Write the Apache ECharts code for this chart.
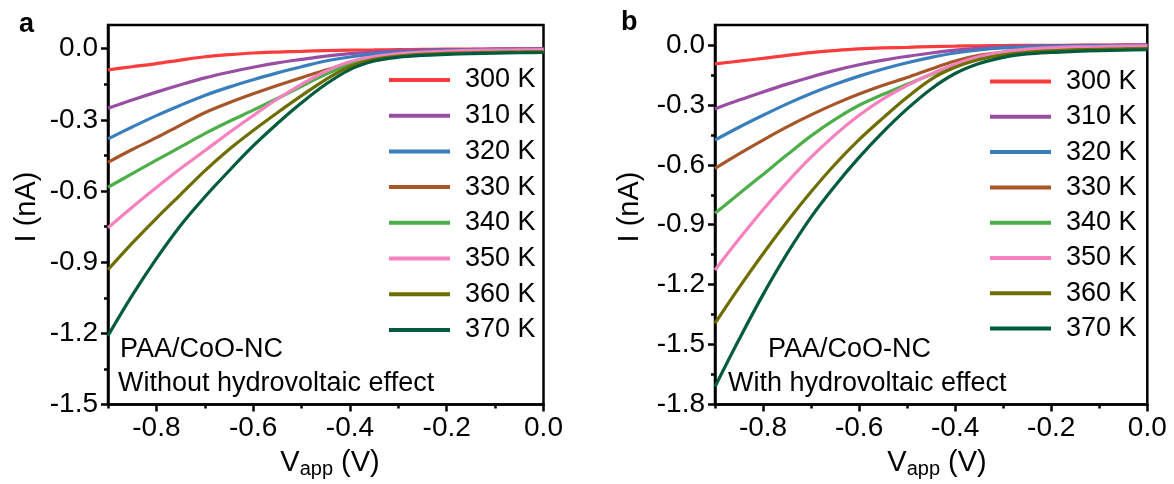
<!DOCTYPE html>
<html>
<head>
<meta charset="utf-8">
<script src="https://cdn.jsdelivr.net/npm/echarts@6/dist/echarts.min.js"></script>
<style>
html,body{margin:0;padding:0;background:#fff;}
#chart{width:1174px;height:484px;}
</style>
</head>
<body>
<div id="chart"></div>
<script>
// ---------- data ----------
const vApp = [-0.9,-0.85,-0.8,-0.75,-0.7,-0.65,-0.6,-0.55,-0.5,-0.45,-0.4,-0.35,-0.3,-0.25,-0.2,-0.15,-0.1,-0.05,0];
const temps = ['300 K','310 K','320 K','330 K','340 K','350 K','360 K','370 K'];

// panel a: without hydrovoltaic effect (nA)
const a300 = [-0.089,-0.076,-0.063,-0.048,-0.034,-0.025,-0.018,-0.014,-0.011,-0.008,-0.006,-0.005,-0.004,-0.003,-0.002,-0.002,-0.001,-0.001,0.000];
const a310 = [-0.251,-0.216,-0.183,-0.152,-0.123,-0.099,-0.078,-0.060,-0.045,-0.031,-0.021,-0.014,-0.009,-0.006,-0.004,-0.003,-0.002,-0.001,-0.001];
const a320 = [-0.380,-0.330,-0.282,-0.238,-0.197,-0.162,-0.131,-0.102,-0.076,-0.052,-0.035,-0.023,-0.015,-0.011,-0.008,-0.006,-0.005,-0.004,-0.003];
const a330 = [-0.479,-0.425,-0.375,-0.322,-0.270,-0.228,-0.190,-0.155,-0.122,-0.090,-0.060,-0.039,-0.026,-0.018,-0.013,-0.010,-0.008,-0.007,-0.006];
const a340 = [-0.584,-0.527,-0.470,-0.414,-0.358,-0.307,-0.259,-0.210,-0.158,-0.108,-0.066,-0.041,-0.028,-0.020,-0.015,-0.012,-0.010,-0.009,-0.008];
const a350 = [-0.755,-0.668,-0.585,-0.505,-0.430,-0.354,-0.282,-0.212,-0.150,-0.095,-0.055,-0.033,-0.021,-0.014,-0.010,-0.007,-0.006,-0.005,-0.004];
const a360 = [-0.932,-0.820,-0.715,-0.615,-0.515,-0.425,-0.345,-0.270,-0.198,-0.130,-0.075,-0.045,-0.031,-0.024,-0.020,-0.017,-0.015,-0.014,-0.013];
const a370 = [-1.210,-1.040,-0.885,-0.745,-0.625,-0.515,-0.410,-0.315,-0.228,-0.150,-0.088,-0.052,-0.036,-0.028,-0.024,-0.021,-0.019,-0.017,-0.016];

// panel b: with hydrovoltaic effect (nA)
const b300 = [-0.095,-0.081,-0.067,-0.052,-0.038,-0.028,-0.020,-0.015,-0.012,-0.008,-0.006,-0.004,-0.003,-0.002,-0.002,-0.001,-0.001,0.000,0.000];
const b310 = [-0.320,-0.276,-0.235,-0.196,-0.160,-0.127,-0.099,-0.076,-0.057,-0.040,-0.026,-0.016,-0.010,-0.006,-0.004,-0.003,-0.002,-0.001,0.000];
const b320 = [-0.476,-0.412,-0.352,-0.295,-0.243,-0.197,-0.156,-0.120,-0.089,-0.062,-0.040,-0.025,-0.015,-0.010,-0.007,-0.005,-0.004,-0.003,-0.002];
const b330 = [-0.618,-0.545,-0.476,-0.410,-0.350,-0.295,-0.246,-0.202,-0.163,-0.120,-0.080,-0.052,-0.037,-0.029,-0.023,-0.019,-0.017,-0.015,-0.014];
const b340 = [-0.843,-0.745,-0.648,-0.550,-0.455,-0.372,-0.302,-0.247,-0.197,-0.148,-0.102,-0.065,-0.042,-0.030,-0.024,-0.020,-0.017,-0.015,-0.013];
const b350 = [-1.127,-0.972,-0.825,-0.688,-0.562,-0.450,-0.352,-0.270,-0.203,-0.145,-0.095,-0.058,-0.034,-0.021,-0.014,-0.010,-0.008,-0.006,-0.004];
const b360 = [-1.394,-1.215,-1.045,-0.885,-0.735,-0.597,-0.474,-0.365,-0.262,-0.172,-0.112,-0.073,-0.050,-0.037,-0.030,-0.025,-0.022,-0.020,-0.018];
const b370 = [-1.711,-1.475,-1.250,-1.045,-0.862,-0.705,-0.563,-0.435,-0.320,-0.220,-0.143,-0.093,-0.062,-0.045,-0.037,-0.032,-0.028,-0.026,-0.024];

// tick values
const xMajor = [-0.8,-0.6,-0.4,-0.2,0];
const xMinor = [-0.9,-0.7,-0.5,-0.3,-0.1];
const yMajorA = [-1.5,-1.2,-0.9,-0.6,-0.3,0];
const yMinorA = [-1.35,-1.05,-0.75,-0.45,-0.15];
const yMajorB = [-1.8,-1.5,-1.2,-0.9,-0.6,-0.3,0];
const yMinorB = [-1.65,-1.35,-1.05,-0.75,-0.45,-0.15];

// ---------- style ----------
const colors = ['#fb3c3c','#984ea3','#3a7fbd','#a65628','#4daf4a','#f781bf','#6e6e00','#005c3d'];
const FONT = '"Liberation Sans", Arial, sans-serif';
const setsA = [a300,a310,a320,a330,a340,a350,a360,a370];
const setsB = [b300,b310,b320,b330,b340,b350,b360,b370];

function majorX(gi){
  return {gridIndex:gi,type:'value',min:-0.9,max:0,position:'bottom',
    axisLine:{show:true,onZero:false,lineStyle:{color:'#000',width:2.5}},
    axisTick:{show:true,length:7,customValues:xMajor,lineStyle:{color:'#000',width:2.5}},
    axisLabel:{customValues:xMajor,formatter:v=>v.toFixed(1),fontSize:28,color:'#000',margin:10,fontFamily:FONT},
    splitLine:{show:false}};
}
function minorX(gi){
  return {gridIndex:gi,type:'value',min:-0.9,max:0,position:'bottom',
    axisLine:{show:false,onZero:false},
    axisTick:{show:true,length:4,customValues:xMinor,lineStyle:{color:'#000',width:2.5}},
    axisLabel:{show:false},splitLine:{show:false}};
}
function majorY(gi,min,ticks){
  return {gridIndex:gi,type:'value',min:min,max:0.1,position:'left',
    axisLine:{show:true,onZero:false,lineStyle:{color:'#000',width:2.5}},
    axisTick:{show:true,length:7,customValues:ticks,lineStyle:{color:'#000',width:2.5}},
    axisLabel:{customValues:ticks,formatter:v=>v.toFixed(1),fontSize:28,color:'#000',margin:10,fontFamily:FONT},
    splitLine:{show:false}};
}
function minorY(gi,min,ticks){
  return {gridIndex:gi,type:'value',min:min,max:0.1,position:'left',
    axisLine:{show:false,onZero:false},
    axisTick:{show:true,length:4,customValues:ticks,lineStyle:{color:'#000',width:2.5}},
    axisLabel:{show:false},splitLine:{show:false}};
}

const series = [];
setsA.forEach((arr,i)=>{
  series.push({name:temps[i],type:'line',xAxisIndex:0,yAxisIndex:0,showSymbol:false,symbol:'none',
    smooth:0.35,lineStyle:{width:3.2,color:colors[i]},itemStyle:{color:colors[i]},
    data:vApp.map((x,k)=>[x,arr[k]])});
});
setsB.forEach((arr,i)=>{
  series.push({name:temps[i],type:'line',xAxisIndex:2,yAxisIndex:2,showSymbol:false,symbol:'none',
    smooth:0.35,lineStyle:{width:3.2,color:colors[i]},itemStyle:{color:colors[i]},
    data:vApp.map((x,k)=>[x,arr[k]])});
});

function legendAt(left,top,gap){
  return {data:temps,orient:'vertical',left:left,top:top,padding:0,icon:'rect',
    itemWidth:61,itemHeight:4,itemGap:gap,selectedMode:false,
    textStyle:{fontSize:27,lineHeight:30,color:'#000',fontFamily:FONT,padding:[0,0,0,10]}};
}

const txt = (t,x,y,size,extra)=>Object.assign({type:'text',x:x,y:y,
  style:{text:t,font:size+'px '+FONT,fill:'#000',textVerticalAlign:'top'}},extra||{});

const richSub = {v:{fontSize:29,fontFamily:FONT,color:'#000',lineHeight:32},
                 s:{fontSize:20,fontFamily:FONT,color:'#000',lineHeight:32,padding:[13,0,0,0]}};

const option = {
  animation:false,
  backgroundColor:'#fff',
  textStyle:{fontFamily:FONT},
  grid:[
    {left:108,top:25,width:435.5,height:379.5,show:true,borderColor:'#000',borderWidth:2.5,backgroundColor:'transparent'},
    {left:715,top:25,width:432.3,height:379.5,show:true,borderColor:'#000',borderWidth:2.5,backgroundColor:'transparent'}
  ],
  xAxis:[majorX(0),minorX(0),majorX(1),minorX(1)],
  yAxis:[majorY(0,-1.5,yMajorA),minorY(0,-1.5,yMinorA),majorY(1,-1.8,yMajorB),minorY(1,-1.8,yMinorB)],
  legend:[legendAt(389,65,5.7),legendAt(990,66.5,5.3)],
  series:series,
  graphic:[
    {type:'text',x:19,y:11,style:{text:'a',font:'bold 27px '+FONT,fill:'#000'}},
    {type:'text',x:621,y:9,style:{text:'b',font:'bold 27px '+FONT,fill:'#000'}},
    txt('PAA/CoO-NC',120,336,27),
    txt('Without hydrovoltaic effect',118,370,27),
    txt('PAA/CoO-NC',768,336,27),
    txt('With hydrovoltaic effect',728,370,27),
    {type:'text',x:27,y:207,rotation:Math.PI/2,style:{text:'I (nA)',font:'29px '+FONT,fill:'#000',textAlign:'center',textVerticalAlign:'middle'}},
    {type:'text',x:630,y:207,rotation:Math.PI/2,style:{text:'I (nA)',font:'29px '+FONT,fill:'#000',textAlign:'center',textVerticalAlign:'middle'}},
    {type:'text',x:330,y:463,style:{text:'{v|V}{s|app}{v| (V)}',textAlign:'center',textVerticalAlign:'middle',rich:richSub}},
    {type:'text',x:937,y:463,style:{text:'{v|V}{s|app}{v| (V)}',textAlign:'center',textVerticalAlign:'middle',rich:richSub}}
  ]
};

const chart = echarts.init(document.getElementById('chart'),null,{renderer:'canvas'});
chart.setOption(option);
</script>
</body>
</html>
